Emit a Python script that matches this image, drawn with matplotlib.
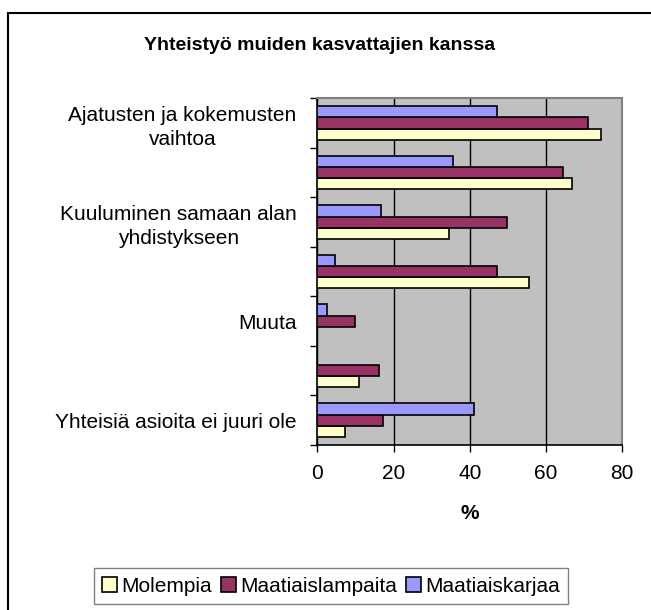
import matplotlib.pyplot as plt
from matplotlib.patches import Rectangle
import numpy as np

plt.rcParams['font.family'] = ['Liberation Sans', 'DejaVu Sans']

# Data (categories top to bottom; every other label hidden as in the original)
categories = ['Ajatusten ja kokemusten\nvaihtoa', '',
              'Kuuluminen samaan alan\nyhdistykseen', '',
              'Muuta', '',
              'Yhteisiä asioita ei juuri ole']
molempia = [74.3, 66.9, 34.6, 55.5, 0.0, 11.0, 7.3]
lampaita = [71.1, 64.4, 49.7, 47.1, 10.0, 16.2, 17.2]
karjaa = [47.1, 35.5, 16.7, 4.6, 2.5, 0.0, 41.2]

fig = plt.figure(figsize=(6.51, 6.10), dpi=100)
ax = fig.add_axes([317.3 / 651, 1 - 445 / 610, (622.3 - 317.3) / 651, (445 - 98.3) / 610])
ax.set_facecolor('#C0C0C0')

y = np.arange(len(categories))
h = 0.226
b1 = ax.barh(y + h, molempia, h, color='#FFFFCC', edgecolor='black', lw=1.2, label='Molempia', zorder=3)
b2 = ax.barh(y, lampaita, h, color='#993366', edgecolor='black', lw=1.2, label='Maatiaislampaita', zorder=3)
b3 = ax.barh(y - h, karjaa, h, color='#9999FF', edgecolor='black', lw=1.2, label='Maatiaiskarjaa', zorder=3)

ax.set_xlim(0, 80)
ax.set_ylim(len(categories) - 0.5, -0.5)
ax.set_xticks([0, 20, 40, 60, 80])
ax.tick_params(axis='x', direction='out', length=5, width=1, labelsize=15, pad=9)
ax.xaxis.grid(True, color='black', lw=1, zorder=1)

ax.set_yticks(y)
ax.set_yticklabels(categories, fontsize=15, linespacing=1.3)
for t in ax.get_yticklabels():
    t.set_multialignment('center')
ax.set_yticks(np.arange(len(categories) + 1) - 0.5, minor=True)
ax.tick_params(axis='y', which='major', length=0, pad=15)
ax.tick_params(axis='y', which='minor', direction='out', length=5, width=1)

ax.spines['top'].set_color('#808080')
ax.spines['right'].set_color('#808080')
ax.spines['top'].set_linewidth(1.5)
ax.spines['right'].set_linewidth(1.5)
ax.spines['left'].set_linewidth(1.2)
ax.spines['bottom'].set_linewidth(1.2)

ax.set_xlabel('%', fontsize=15, fontweight='bold', labelpad=15)

fig.text(320 / 651, 1 - 45 / 610, 'Yhteistyö muiden kasvattajien kanssa',
         ha='center', va='center', fontsize=14, fontweight='bold')

leg = fig.legend(handles=[b1, b2, b3], loc='center', ncol=3,
                 bbox_to_anchor=(331 / 651, 1 - 586 / 610), fontsize=15,
                 frameon=True, fancybox=False, framealpha=1, edgecolor='#808080',
                 handlelength=0.75, handleheight=0.75, handletextpad=0.2,
                 columnspacing=0.4, borderpad=0.4)

fig.add_artist(Rectangle((8 / 651, -0.1), 1.0, 1 - 13 / 610 + 0.1, transform=fig.transFigure,
                         fill=False, edgecolor='black', lw=1.5))

plt.savefig('out.png', dpi=100)
plt.close()
